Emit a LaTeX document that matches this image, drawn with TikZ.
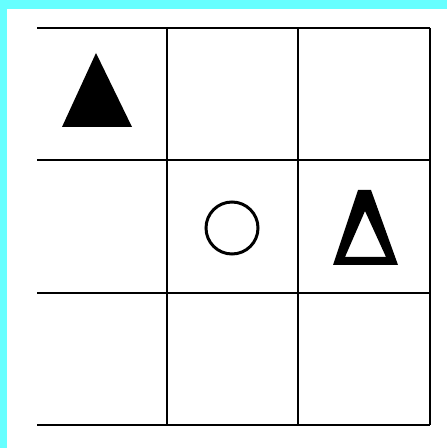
\documentclass[tikz,border=0pt]{standalone}
\usepackage{xcolor}
\usepackage{tikz}
\definecolor{framecyan}{RGB}{102, 255, 255}

\begin{document}
\begin{tikzpicture}[x=0.02cm, y=-0.02cm, line join=miter]
    \useasboundingbox (0,0) rectangle (447,448);
    \fill[white] (0,0) rectangle (447,448);
    \fill[framecyan] (0,0) rectangle (447,9);
    \fill[framecyan] (0,0) rectangle (7,448);
    % grid
    \foreach \y in {28,160,293,425}
        \draw[line width=0.04cm] (37,\y) -- (430,\y);
    \foreach \x in {167,298,430}
        \draw[line width=0.04cm] (\x,28) -- (\x,425);
    % marks
    \fill (96,53) -- (132,127) -- (62,127) -- cycle;
    \draw[line width=0.06cm] (232,228) circle (26);
    \fill[even odd rule] (358,190) -- (371,190) -- (398,265) -- (333,265) -- cycle
        (365,211) -- (386,257) -- (345,257) -- cycle;
\end{tikzpicture}
\end{document}
